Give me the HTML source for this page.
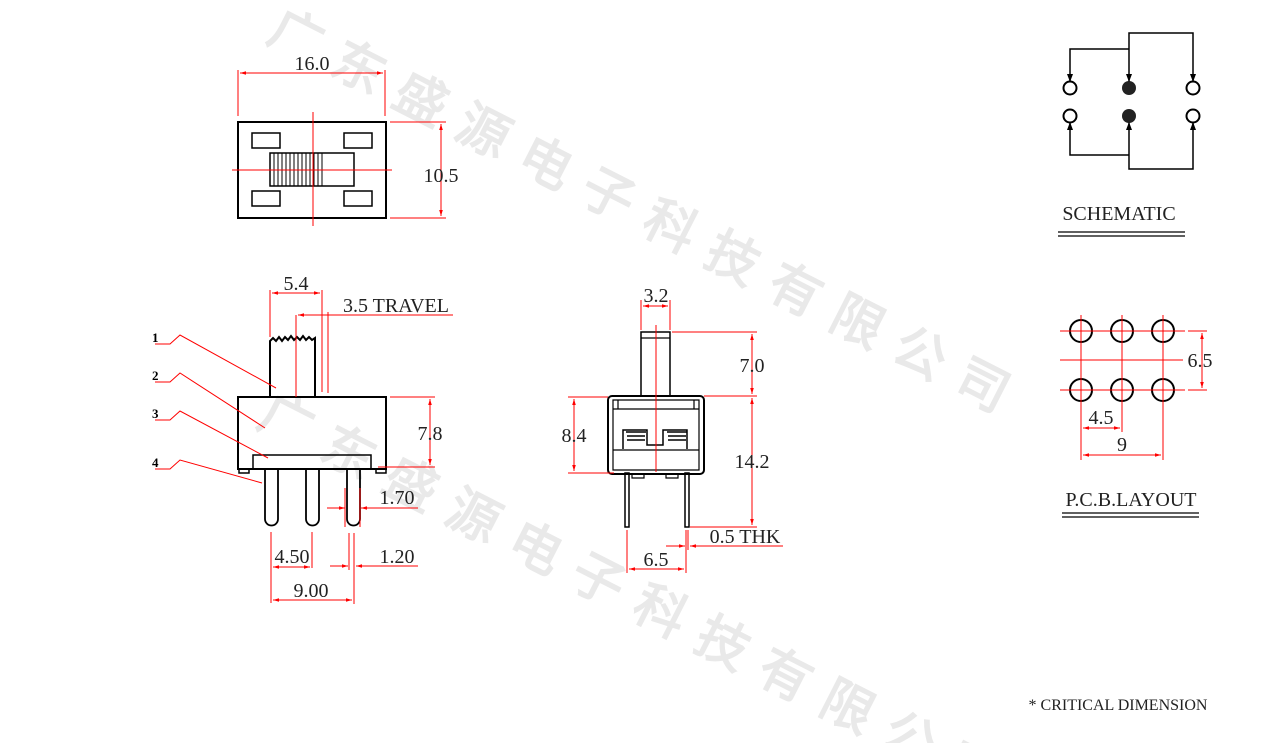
<!DOCTYPE html>
<html><head><meta charset="utf-8"><style>
html,body{margin:0;padding:0;background:#fff;width:1264px;height:743px;overflow:hidden;}
svg{display:block;overflow:hidden;}
text{font-family:"Liberation Serif",serif;}
</style></head><body>
<svg width="1264" height="743" viewBox="0 0 1264 743" xmlns="http://www.w3.org/2000/svg">
<defs>
<marker id="a" viewBox="0 0 10 10" refX="10" refY="5" markerWidth="8" markerHeight="6" orient="auto-start-reverse"><path d="M0,2 L10,5 L0,8z" fill="#f00"/></marker>
<clipPath id="c"><rect x="0" y="0" width="1264" height="743"/></clipPath>
</defs>
<g clip-path="url(#c)" fill="#e9e9e9" font-family="'Noto Sans CJK SC',sans-serif" font-size="52" font-weight="bold">
<text transform="translate(265,40) rotate(27)" letter-spacing="18">广东盛源电子科技有限公司</text>
<text transform="translate(255,425) rotate(27)" letter-spacing="18">广东盛源电子科技有限公司</text>
</g>
<g fill="none" stroke="#000" stroke-width="2">
<rect x="238" y="122" width="148" height="96"/>
<rect x="252" y="133" width="28" height="15" stroke-width="1.5"/>
<rect x="344" y="133" width="28" height="15" stroke-width="1.5"/>
<rect x="252" y="191" width="28" height="15" stroke-width="1.5"/>
<rect x="344" y="191" width="28" height="15" stroke-width="1.5"/>
<rect x="270" y="153" width="84" height="33" stroke-width="1.5"/>
<path d="M322,153V186M274,153V186M278,153V186M282,153V186M286,153V186M290,153V186M294,153V186M298,153V186M302,153V186M306,153V186M310,153V186M314,153V186M318,153V186" stroke-width="1"/>
<rect x="238" y="397" width="148" height="72"/>
<rect x="253" y="455" width="118" height="14" stroke-width="1.5"/>
<path d="M239,469v4h10v-4M376,469v4h10v-4" stroke-width="1.5"/>
<path d="M270,397V341l3,-3 3,3 3,-4 3,4 3,-4 3,3 3,-4 3,4 3,-3 3,3 3,-4 3,4 3,-3 3,3 3,-2V397"/>
<path d="M265,469V519a5,5 0 0 0 13,0V469M306,469V519a5,5 0 0 0 13,0V469M347,469V519a5,5 0 0 0 13,0V469" stroke-width="1.8"/>
<rect x="608" y="396" width="96" height="78" rx="4"/>
<path d="M613,400H699V470H613Z" stroke-width="1.2"/>
<path d="M613,409H699M618,400V409M694,400V409M613,450H699" stroke-width="1.2"/>
<path d="M623,449V430H647V445H663V430H687V449" stroke-width="1.5"/>
<path d="M626,432h20M667,432h20M627,436h18M668,436h18M627,440h18M668,440h18" stroke-width="1.5"/>
<rect x="641" y="332" width="29" height="64" stroke-width="1.5"/>
<path d="M641,338H670" stroke-width="1.2"/>
<rect x="625" y="473" width="4" height="54" stroke-width="1.5"/>
<rect x="685" y="473" width="4" height="54" stroke-width="1.5"/>
<path d="M632,474v4h12v-4M666,474v4h12v-4" stroke-width="1.2"/>
<path d="M1070,82V49H1129V33H1193V82M1129,49V82M1070,122V155H1129V169H1193V122M1129,155V122" stroke-width="1.5"/>
<circle cx="1070" cy="88" r="6.5"/><circle cx="1193" cy="88" r="6.5"/>
<circle cx="1070" cy="116" r="6.5"/><circle cx="1193" cy="116" r="6.5"/>
<circle cx="1081" cy="331" r="11"/><circle cx="1122" cy="331" r="11"/><circle cx="1163" cy="331" r="11"/>
<circle cx="1081" cy="390" r="11"/><circle cx="1122" cy="390" r="11"/><circle cx="1163" cy="390" r="11"/>
<path d="M1058,232H1185M1058,236H1185M1062,513H1199M1062,517H1199" stroke-width="1.3"/>
</g>
<circle cx="1129" cy="88" r="7" fill="#222"/><circle cx="1129" cy="116" r="7" fill="#222"/>
<g fill="#000"><path d="M1067,74l3,8 3,-8zM1126,74l3,8 3,-8zM1190,74l3,8 3,-8zM1067,130l3,-8 3,8zM1126,130l3,-8 3,8zM1190,130l3,-8 3,8z"/></g>
<g fill="none" stroke="#f00" stroke-width="1">
<path d="M313,112V226M232,170H392"/>
<path d="M238,70V116M385,70V116"/><path d="M240,73H383" marker-start="url(#a)" marker-end="url(#a)"/>
<path d="M390,122H446M390,218H446"/><path d="M441,124V216" marker-start="url(#a)" marker-end="url(#a)"/>
<path d="M270,290V337M322,290V392M296,315V397M328,312V393"/>
<path d="M272,293H320" marker-start="url(#a)" marker-end="url(#a)"/>
<path d="M298,315H322" marker-start="url(#a)"/><path d="M322,315H453"/>
<path d="M390,397H435M378,467H435"/><path d="M430,399V465" marker-start="url(#a)" marker-end="url(#a)"/>
<path d="M327,508H345" marker-end="url(#a)"/><path d="M418,508H361" marker-end="url(#a)"/>
<path d="M345,488V527M360,488V527"/>
<path d="M271,532V603M312,532V568M354,533V604M349,533V570"/>
<path d="M273,567H310" marker-start="url(#a)" marker-end="url(#a)"/>
<path d="M273,600H352" marker-start="url(#a)" marker-end="url(#a)"/>
<path d="M330,566H348" marker-end="url(#a)"/><path d="M418,566H356" marker-end="url(#a)"/>
<path d="M155,344H170L180,335L276,388M155,382H170L180,373L265,428M155,420H170L180,411L268,458M155,469H170L180,460L262,483"/>
<path d="M656,325V472"/>
<path d="M641,300V330M670,300V330"/><path d="M643,306H668" marker-start="url(#a)" marker-end="url(#a)"/>
<path d="M672,332H757M704,396H757M690,527H757"/>
<path d="M752,334V394" marker-start="url(#a)" marker-end="url(#a)"/>
<path d="M752,398V525" marker-start="url(#a)" marker-end="url(#a)"/>
<path d="M568,397H608M568,473H614"/><path d="M574,399V471" marker-start="url(#a)" marker-end="url(#a)"/>
<path d="M627,530V573M686,530V573M688,530V550"/>
<path d="M666,546H685" marker-end="url(#a)"/><path d="M783,546H690" marker-end="url(#a)"/>
<path d="M629,569H684" marker-start="url(#a)" marker-end="url(#a)"/>
<path d="M1060,331H1185M1060,360H1183M1060,390H1185M1081,315V460M1122,315V432M1163,315V460M1188,331H1207M1188,390H1207"/>
<path d="M1202,333V388" marker-start="url(#a)" marker-end="url(#a)"/>
<path d="M1083,428H1120" marker-start="url(#a)" marker-end="url(#a)"/>
<path d="M1083,455H1161" marker-start="url(#a)" marker-end="url(#a)"/>
</g>
<g fill="#222" font-size="20" text-anchor="middle">
<text x="312" y="70">16.0</text>
<text x="441" y="182">10.5</text>
<text x="296" y="290">5.4</text>
<text x="396" y="312">3.5 TRAVEL</text>
<text x="430" y="440">7.8</text>
<text x="397" y="504">1.70</text>
<text x="292" y="563">4.50</text>
<text x="397" y="563">1.20</text>
<text x="311" y="597">9.00</text>
<text x="656" y="302">3.2</text>
<text x="752" y="372">7.0</text>
<text x="752" y="468">14.2</text>
<text x="574" y="442">8.4</text>
<text x="745" y="543">0.5 THK</text>
<text x="656" y="566">6.5</text>
<text x="1119" y="220">SCHEMATIC</text>
<text x="1200" y="367">6.5</text>
<text x="1101" y="424">4.5</text>
<text x="1122" y="451">9</text>
<text x="1131" y="506">P.C.B.LAYOUT</text>
</g>
<g fill="#000" font-size="13" font-weight="bold">
<text x="152" y="342">1</text><text x="152" y="380">2</text><text x="152" y="418">3</text><text x="152" y="467">4</text>
</g>
<text x="1118" y="710" font-size="16" fill="#222" text-anchor="middle">* CRITICAL  DIMENSION</text>
</svg>
</body></html>
